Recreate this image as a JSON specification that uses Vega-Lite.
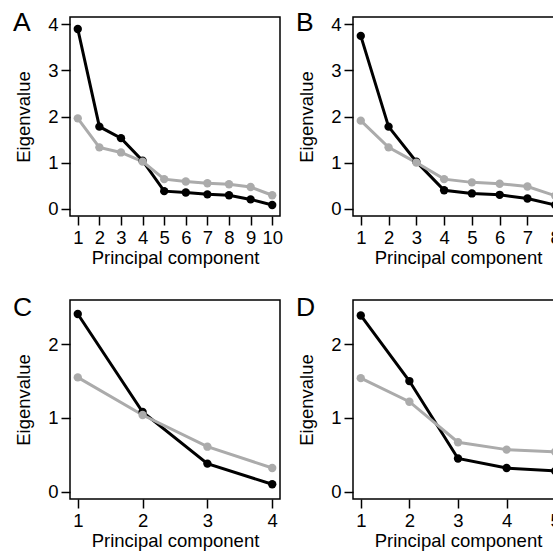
{
  "$schema": "https://vega.github.io/schema/vega-lite/v6.json",
  "padding": {"left": 12, "top": 9, "right": 0, "bottom": 0},
  "background": "white",
  "bounds": "flush",
  "columns": 2,
  "spacing": {"row": 84, "column": 73},
  "datasets": {
    "eig": [
      {"panel": "A", "series": "Observed", "pc": 1, "eig": 3.90},
      {"panel": "A", "series": "Observed", "pc": 2, "eig": 1.78},
      {"panel": "A", "series": "Observed", "pc": 3, "eig": 1.53},
      {"panel": "A", "series": "Observed", "pc": 4, "eig": 1.04},
      {"panel": "A", "series": "Observed", "pc": 5, "eig": 0.38},
      {"panel": "A", "series": "Observed", "pc": 6, "eig": 0.35},
      {"panel": "A", "series": "Observed", "pc": 7, "eig": 0.31},
      {"panel": "A", "series": "Observed", "pc": 8, "eig": 0.29},
      {"panel": "A", "series": "Observed", "pc": 9, "eig": 0.20},
      {"panel": "A", "series": "Observed", "pc": 10, "eig": 0.08},
      {"panel": "A", "series": "Random", "pc": 1, "eig": 1.96},
      {"panel": "A", "series": "Random", "pc": 2, "eig": 1.33},
      {"panel": "A", "series": "Random", "pc": 3, "eig": 1.22},
      {"panel": "A", "series": "Random", "pc": 4, "eig": 1.02},
      {"panel": "A", "series": "Random", "pc": 5, "eig": 0.64},
      {"panel": "A", "series": "Random", "pc": 6, "eig": 0.59},
      {"panel": "A", "series": "Random", "pc": 7, "eig": 0.55},
      {"panel": "A", "series": "Random", "pc": 8, "eig": 0.53},
      {"panel": "A", "series": "Random", "pc": 9, "eig": 0.47},
      {"panel": "A", "series": "Random", "pc": 10, "eig": 0.29},
      {"panel": "B", "series": "Observed", "pc": 1, "eig": 3.75},
      {"panel": "B", "series": "Observed", "pc": 2, "eig": 1.78},
      {"panel": "B", "series": "Observed", "pc": 3, "eig": 1.02},
      {"panel": "B", "series": "Observed", "pc": 4, "eig": 0.40},
      {"panel": "B", "series": "Observed", "pc": 5, "eig": 0.33},
      {"panel": "B", "series": "Observed", "pc": 6, "eig": 0.30},
      {"panel": "B", "series": "Observed", "pc": 7, "eig": 0.22},
      {"panel": "B", "series": "Observed", "pc": 8, "eig": 0.08},
      {"panel": "B", "series": "Random", "pc": 1, "eig": 1.91},
      {"panel": "B", "series": "Random", "pc": 2, "eig": 1.33},
      {"panel": "B", "series": "Random", "pc": 3, "eig": 1.00},
      {"panel": "B", "series": "Random", "pc": 4, "eig": 0.64},
      {"panel": "B", "series": "Random", "pc": 5, "eig": 0.57},
      {"panel": "B", "series": "Random", "pc": 6, "eig": 0.54},
      {"panel": "B", "series": "Random", "pc": 7, "eig": 0.48},
      {"panel": "B", "series": "Random", "pc": 8, "eig": 0.28},
      {"panel": "C", "series": "Observed", "pc": 1, "eig": 2.41},
      {"panel": "C", "series": "Observed", "pc": 2, "eig": 1.08},
      {"panel": "C", "series": "Observed", "pc": 3, "eig": 0.38},
      {"panel": "C", "series": "Observed", "pc": 4, "eig": 0.10},
      {"panel": "C", "series": "Random", "pc": 1, "eig": 1.55},
      {"panel": "C", "series": "Random", "pc": 2, "eig": 1.04},
      {"panel": "C", "series": "Random", "pc": 3, "eig": 0.61},
      {"panel": "C", "series": "Random", "pc": 4, "eig": 0.32},
      {"panel": "D", "series": "Observed", "pc": 1, "eig": 2.39},
      {"panel": "D", "series": "Observed", "pc": 2, "eig": 1.50},
      {"panel": "D", "series": "Observed", "pc": 3, "eig": 0.45},
      {"panel": "D", "series": "Observed", "pc": 4, "eig": 0.32},
      {"panel": "D", "series": "Observed", "pc": 5, "eig": 0.28},
      {"panel": "D", "series": "Random", "pc": 1, "eig": 1.54},
      {"panel": "D", "series": "Random", "pc": 2, "eig": 1.22},
      {"panel": "D", "series": "Random", "pc": 3, "eig": 0.67},
      {"panel": "D", "series": "Random", "pc": 4, "eig": 0.57},
      {"panel": "D", "series": "Random", "pc": 5, "eig": 0.54}
    ]
  },
  "concat": [
    {
      "data": {"name": "eig"},
      "width": 210, "height": 199,
      "title": {"text": "A", "dy": 25},
      "transform": [{"filter": "datum.panel === 'A'"}],
      "mark": {"type": "line", "strokeWidth": 3, "point": {"filled": true, "size": 70, "opacity": 1}},
      "encoding": {
        "x": {"field": "pc", "type": "quantitative", "scale": {"domain": [0.64, 10.36], "nice": false, "zero": false}, "axis": {"values": [1,2,3,4,5,6,7,8,9,10], "title": "Principal component"}},
        "y": {"field": "eig", "type": "quantitative", "scale": {"domain": [-0.16, 4.16], "nice": false, "zero": false}, "axis": {"values": [0,1,2,3,4], "title": "Eigenvalue"}},
        "color": {"field": "series", "type": "nominal", "scale": {"domain": ["Observed", "Random"], "range": ["#000000", "#ababab"]}, "legend": null}
      }
    },
    {
      "data": {"name": "eig"},
      "width": 210, "height": 199,
      "title": {"text": "B", "dy": 25},
      "transform": [{"filter": "datum.panel === 'B'"}],
      "mark": {"type": "line", "strokeWidth": 3, "point": {"filled": true, "size": 70, "opacity": 1}},
      "encoding": {
        "x": {"field": "pc", "type": "quantitative", "scale": {"domain": [0.72, 8.28], "nice": false, "zero": false}, "axis": {"values": [1,2,3,4,5,6,7,8], "title": "Principal component"}},
        "y": {"field": "eig", "type": "quantitative", "scale": {"domain": [-0.16, 4.16], "nice": false, "zero": false}, "axis": {"values": [0,1,2,3,4], "title": "Eigenvalue"}},
        "color": {"field": "series", "type": "nominal", "scale": {"domain": ["Observed", "Random"], "range": ["#000000", "#ababab"]}, "legend": null}
      }
    },
    {
      "data": {"name": "eig"},
      "width": 210, "height": 199,
      "title": {"text": "C", "dy": 25},
      "transform": [{"filter": "datum.panel === 'C'"}],
      "mark": {"type": "line", "strokeWidth": 3, "point": {"filled": true, "size": 70, "opacity": 1}},
      "encoding": {
        "x": {"field": "pc", "type": "quantitative", "scale": {"domain": [0.88, 4.12], "nice": false, "zero": false}, "axis": {"values": [1,2,3,4], "title": "Principal component"}},
        "y": {"field": "eig", "type": "quantitative", "scale": {"domain": [-0.1, 2.6], "nice": false, "zero": false}, "axis": {"values": [0,1,2], "title": "Eigenvalue"}},
        "color": {"field": "series", "type": "nominal", "scale": {"domain": ["Observed", "Random"], "range": ["#000000", "#ababab"]}, "legend": null}
      }
    },
    {
      "data": {"name": "eig"},
      "width": 210, "height": 199,
      "title": {"text": "D", "dy": 25},
      "transform": [{"filter": "datum.panel === 'D'"}],
      "mark": {"type": "line", "strokeWidth": 3, "point": {"filled": true, "size": 70, "opacity": 1}},
      "encoding": {
        "x": {"field": "pc", "type": "quantitative", "scale": {"domain": [0.84, 5.16], "nice": false, "zero": false}, "axis": {"values": [1,2,3,4,5], "title": "Principal component"}},
        "y": {"field": "eig", "type": "quantitative", "scale": {"domain": [-0.1, 2.6], "nice": false, "zero": false}, "axis": {"values": [0,1,2], "title": "Eigenvalue"}},
        "color": {"field": "series", "type": "nominal", "scale": {"domain": ["Observed", "Random"], "range": ["#000000", "#ababab"]}, "legend": null}
      }
    }
  ],
  "config": {
    "font": "Liberation Sans",
    "view": {"stroke": "#000000", "strokeWidth": 1.5},
    "axis": {
      "domain": false, "grid": false,
      "ticks": true, "tickColor": "#000000", "tickSize": 9, "tickWidth": 1.5,
      "labelFont": "Liberation Sans", "labelFontSize": 18.5, "labelColor": "#000000",
      "titleFont": "Liberation Sans", "titleFontSize": 18.5, "titleFontWeight": "normal", "titleColor": "#000000",
      "labelFlush": false, "labelOverlap": false
    },
    "axisX": {"labelPadding": 3, "titlePadding": 2},
    "axisY": {"labelPadding": 3, "titlePadding": 14},
    "title": {"anchor": "start", "frame": "group", "dx": -57, "fontSize": 26.5, "fontWeight": "normal", "color": "#000000", "font": "Liberation Sans", "baseline": "alphabetic", "offset": 0}
  }
}
